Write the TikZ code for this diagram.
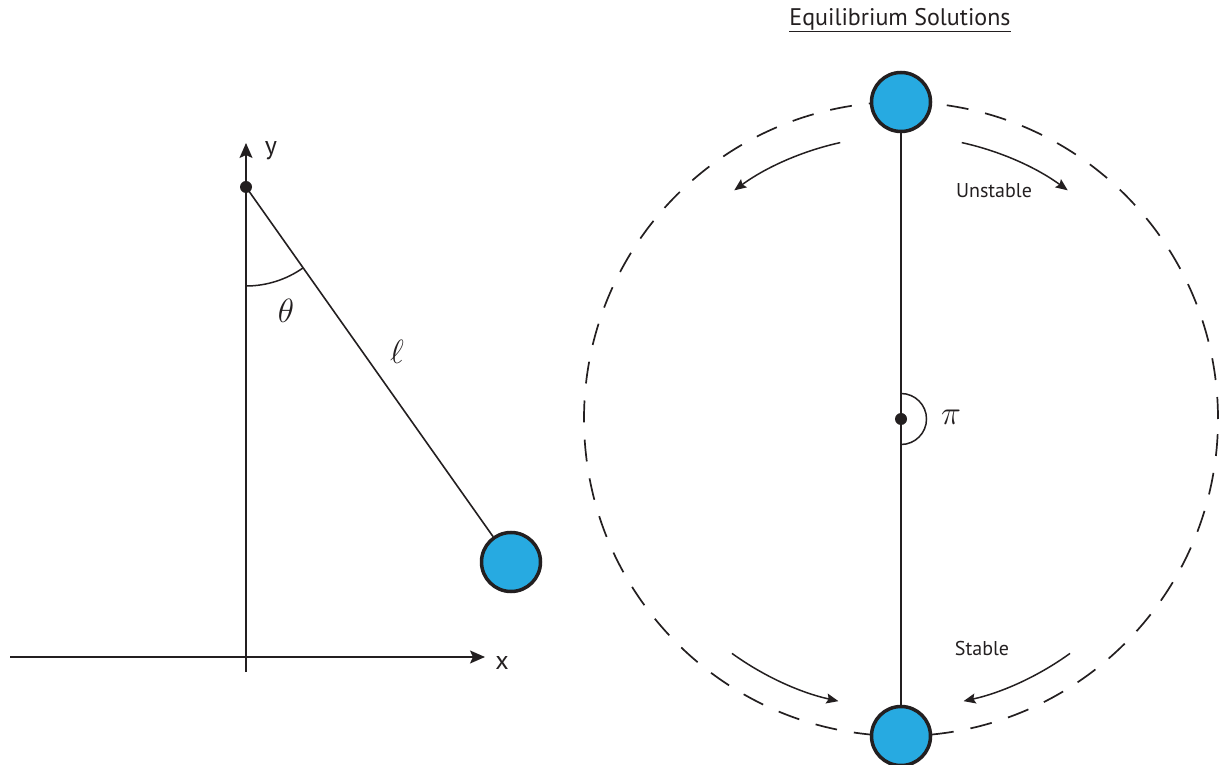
\documentclass[tikz,border=0pt]{standalone}
\usepackage{fontspec}
\setmainfont{PT Sans}
\usetikzlibrary{arrows.meta}
\definecolor{ink}{HTML}{231F20}
\definecolor{bobblue}{HTML}{27AAE1}
\begin{document}
\begin{tikzpicture}[x=1pt,y=1pt,
  bob/.style={circle, draw=ink, fill=bobblue, line width=3.5pt, minimum size=59pt, inner sep=0pt},
  dot/.style={circle, fill=ink, minimum size=12pt, inner sep=0pt},
  rodline/.style={draw=ink, line width=1.6pt},
  axisline/.style={draw=ink, line width=1.6pt, -{Stealth[length=15pt,width=13pt,inset=3pt]}},
  flow/.style={draw=ink, line width=1.5pt, -{Stealth[length=12pt,width=10pt,inset=2pt]}},
  ring/.style={draw=ink, line width=1.7pt, dash pattern=on 22pt off 17.1pt},
  anglearc/.style={draw=ink, line width=1.5pt},
  axlabel/.style={text=ink, inner sep=0pt, font=\fontsize{26}{28}\selectfont},
  mathlabel/.style={text=ink, inner sep=0pt, font=\Huge, scale=1.35},
  smalllabel/.style={text=ink, inner sep=0pt, font=\fontsize{20}{22}\selectfont},
  titlelabel/.style={text=ink, inner sep=0pt, font=\fontsize{24}{27}\selectfont}
]
\useasboundingbox (0,0) rectangle (1221,764);

% ---------- left: pendulum ----------
\coordinate (yb) at (246,92);
\coordinate (yt) at (246,621);
\coordinate (xl) at (10,107);
\coordinate (xr) at (485,107);
\draw[axisline] (yb) -- (yt);
\draw[axisline] (xl) -- (xr);
\node[axlabel] (ylab) at (271,613) {y};
\node[axlabel] (xlab) at (502,101) {x};

\node[dot] (pivot) at (246,577) {};
\node[bob] (bob1) at (511,202) {};
\draw[rodline] (pivot.center) -- (bob1);
\draw[anglearc] (pivot.center) ++(-90:99) arc[start angle=-90,end angle=-54.75,radius=99];
\node[mathlabel] (theta) at (286,453) {$\theta$};
\node[mathlabel] (ell) at (397,412) {$\ell$};

% ---------- right: equilibrium solutions ----------
\node[titlelabel] (title) at (900,744) {\underline{Equilibrium Solutions}};
\coordinate (C) at (901,345);
\draw[ring] (C) circle[radius=317];

\node[bob] (topbob) at (901,662) {};
\node[bob] (botbob) at (901,28) {};
\draw[rodline] (topbob) -- (botbob);
\node[dot] (cdot) at (C) {};
\draw[anglearc] (cdot.center) ++(90:25.5) arc[start angle=90,end angle=-90,radius=25.5];
\node[mathlabel] (pi) at (951,347) {$\pi$};

\path (C) ++(102.4:283) coordinate (ul);
\path (C) ++(77.6:283) coordinate (ur);
\path (C) ++(234.2:289) coordinate (sl);
\path (C) ++(-54.2:289) coordinate (sr);
\draw[flow] (ul) arc[start angle=102.4,end angle=126.1,radius=283];
\draw[flow] (ur) arc[start angle=77.6,end angle=53.9,radius=283];
\draw[flow] (sl) arc[start angle=234.2,end angle=257.5,radius=289];
\draw[flow] (sr) arc[start angle=-54.2,end angle=-77.5,radius=289];

\node[smalllabel] (unstable) at (994,573) {Unstable};
\node[smalllabel] (stable) at (982,116) {Stable};
\end{tikzpicture}
\end{document}
